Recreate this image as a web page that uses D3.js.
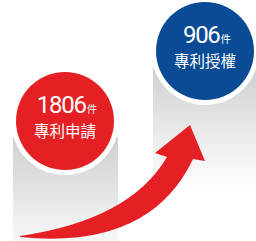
<!DOCTYPE html>
<html><head><meta charset="utf-8">
<script src="https://cdn.jsdelivr.net/npm/d3@7"></script>
<style>html,body{margin:0;padding:0;background:#fff;overflow:hidden}</style>
</head><body>
<svg id="c" width="256" height="241"></svg>
<script>
// data
const categories = ["專利申請", "專利授權"];
const values = [1806, 906];
const unit = "件";
const colors = ["#e42024", "#0a4b95"];

const W = 256, H = 241;
const svg = d3.select("#c");
const defs = svg.append("defs");

const x = d3.scaleBand().domain(categories).range([15, 255]).paddingInner(0.0);
const y = d3.scaleLinear().domain([906, 1806]).range([51, 121]);
const r = 49, ring = 5;

// column gradients
categories.forEach((c, i) => {
  const g = defs.append("linearGradient").attr("id", "g" + i)
    .attr("x1", 0).attr("y1", 0).attr("x2", 0).attr("y2", 1);
  g.append("stop").attr("offset", 0).attr("stop-color", "#cfcfcf");
  g.append("stop").attr("offset", i === 0 ? 1 : 1).attr("stop-color", i === 0 ? "#f7f7f7" : "#ffffff");
});

const cx = d => x(d) + x.bandwidth() / 2 - 10 + (categories.indexOf(d) === 1 ? 20 : 0);
// columns
svg.selectAll("rect.col").data(categories).join("rect")
  .attr("class", "col")
  .attr("x", d => cx(d) - 52)
  .attr("y", (d, i) => y(values[i]) + 16)
  .attr("width", 105)
  .attr("height", (d, i) => i === 0 ? H - (y(values[i]) + 16) : 120)
  .attr("fill", (d, i) => `url(#g${i})`);

// white rings
svg.selectAll("circle.ring").data(categories).join("circle")
  .attr("cx", cx).attr("cy", (d, i) => y(values[i]))
  .attr("r", r + ring).attr("fill", "#fff");
// circles
svg.selectAll("circle.dot").data(categories).join("circle")
  .attr("cx", cx).attr("cy", (d, i) => y(values[i]))
  .attr("r", r).attr("fill", (d, i) => colors[i]);

// numbers
const num = svg.selectAll("text.num").data(categories).join("text")
  .attr("class", "num")
  .attr("x", d => cx(d) + 2)
  .attr("y", (d, i) => y(values[i]) - 8)
  .attr("text-anchor", "middle")
  .attr("fill", "#fff");
num.append("tspan").text((d, i) => values[i])
  .attr("font-family", "Roboto, sans-serif").attr("font-size", 24)
  .attr("letter-spacing", -1.3);
num.append("tspan").text(unit)
  .attr("font-family", "'Noto Sans CJK TC', sans-serif").attr("font-size", 10.5)
  .attr("dx", 1);

svg.selectAll("text.lab").data(categories).join("text")
  .attr("class", "lab")
  .attr("x", d => cx(d))
  .attr("y", (d, i) => y(values[i]) + 16)
  .attr("text-anchor", "middle")
  .attr("fill", "#fff")
  .attr("font-family", "'Noto Sans CJK TC', sans-serif")
  .attr("font-size", 15.5)
  .text(d => d);

// arrow
const p = d3.path();
p.moveTo(20, 236);
p.quadraticCurveTo(130, 220, 167, 157);
p.lineTo(155, 153);
p.lineTo(190, 125);
p.lineTo(205, 161);
p.lineTo(193, 159);
p.quadraticCurveTo(150, 250, 20, 237);
p.closePath();
svg.append("path").attr("d", p.toString()).attr("fill", "#e42024");
</script>
</body></html>
